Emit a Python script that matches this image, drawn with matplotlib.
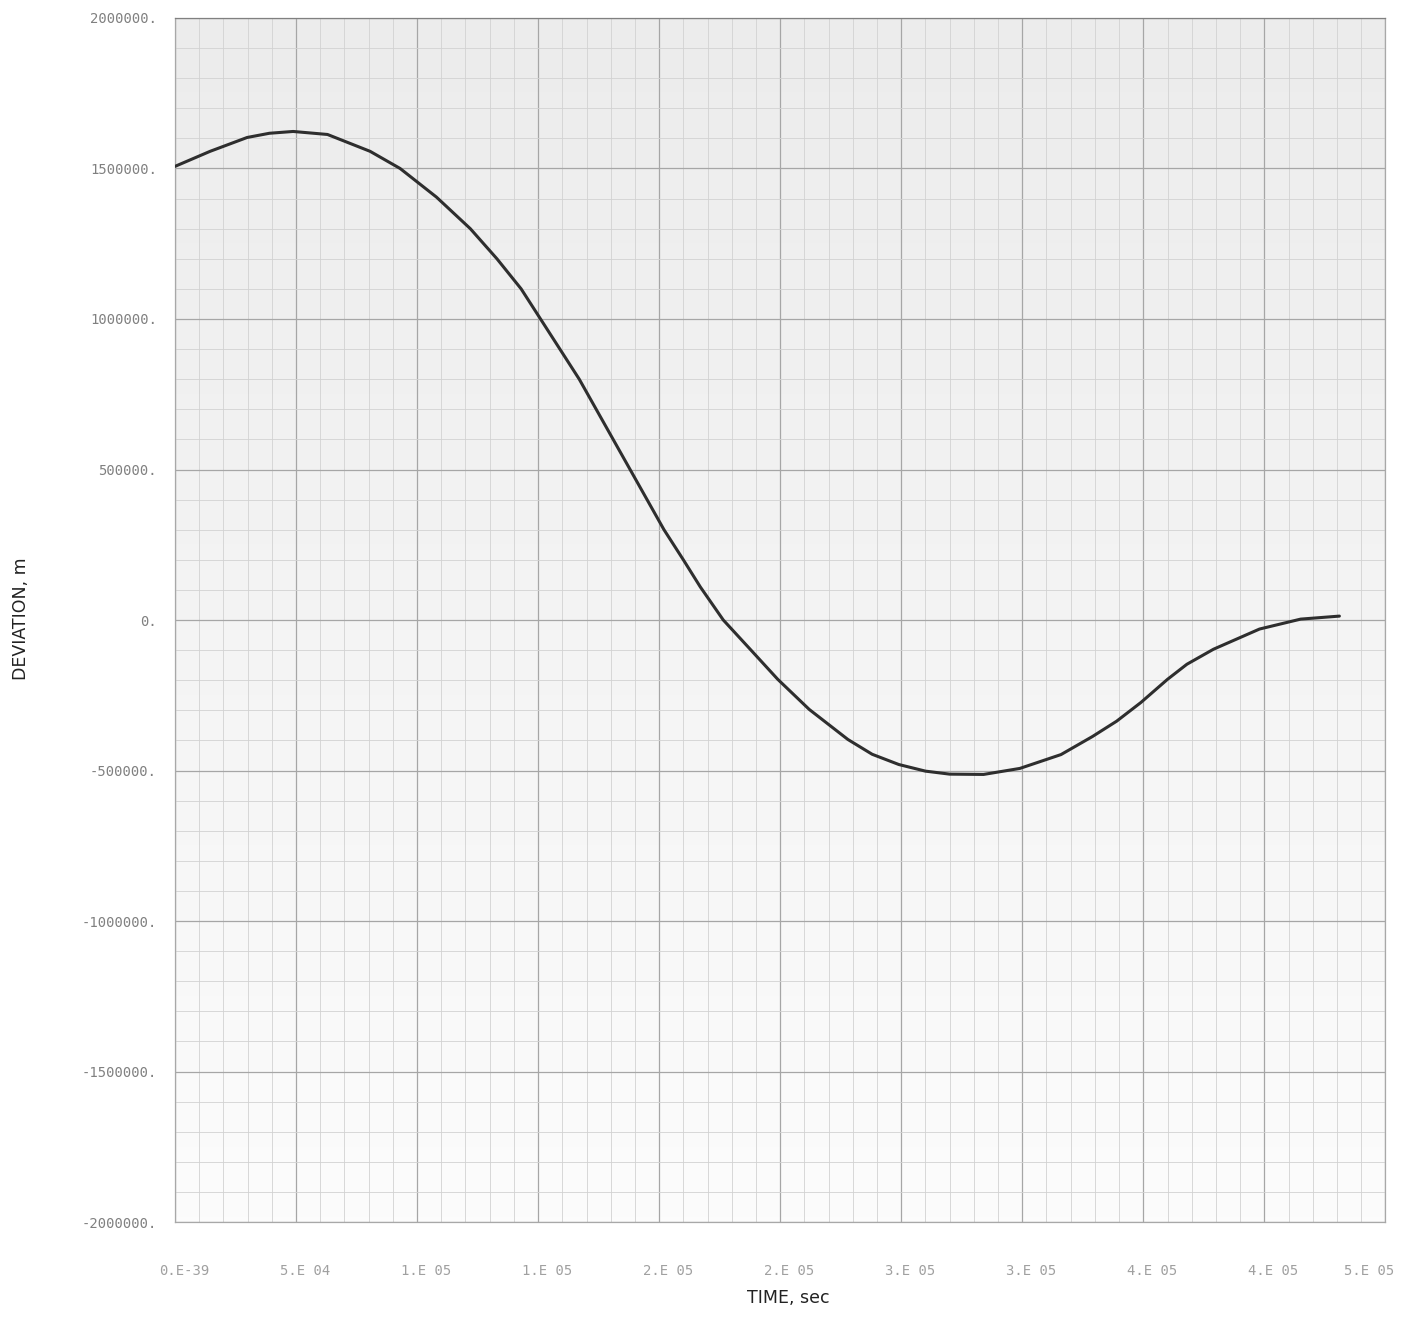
import matplotlib
matplotlib.use("Agg")
import matplotlib.pyplot as plt
import matplotlib.transforms as mtransforms
import numpy as np
from matplotlib.colors import LinearSegmentedColormap
from matplotlib.ticker import FixedLocator, MultipleLocator

# curve
time_s = [0, 1.45e4, 2.98e4, 3.9e4, 4.88e4, 6.3e4, 8.06e4, 9.3e4, 1.08e5,
          1.22e5, 1.33e5, 1.43e5, 1.51e5, 1.59e5, 1.67e5, 1.74e5, 1.81e5,
          1.88e5, 1.95e5, 2.02e5, 2.10e5, 2.17e5, 2.265e5, 2.376e5, 2.49e5,
          2.62e5, 2.78e5, 2.88e5, 2.99e5, 3.1e5, 3.2e5, 3.34e5, 3.49e5,
          3.66e5, 3.79e5, 3.89e5, 3.99e5, 4.1e5, 4.18e5, 4.29e5, 4.48e5,
          4.65e5, 4.81e5]
deviation_m = [1.507e6, 1.557e6, 1.603e6, 1.617e6, 1.623e6, 1.613e6, 1.557e6,
               1.50e6, 1.405e6, 1.30e6, 1.20e6, 1.10e6, 1.00e6, 0.90e6,
               0.80e6, 0.70e6, 0.60e6, 0.50e6, 0.40e6, 0.30e6, 0.20e6,
               0.11e6, 0.0, -0.097e6, -0.197e6, -0.297e6, -0.397e6,
               -0.446e6, -0.48e6, -0.502e6, -0.512e6, -0.513e6, -0.493e6,
               -0.447e6, -0.387e6, -0.336e6, -0.274e6, -0.197e6, -0.147e6,
               -0.097e6, -0.03e6, 0.003e6, 0.013e6]

x_ticks = [i * 5e4 for i in range(11)]
x_tick_labels = ["0.E-39", "5.E 04", "1.E 05", "1.E 05", "2.E 05", "2.E 05",
                 "3.E 05", "3.E 05", "4.E 05", "4.E 05", "5.E 05"]
y_ticks = [-2e6, -1.5e6, -1e6, -5e5, 0, 5e5, 1e6, 1.5e6, 2e6]
y_tick_labels = ["-2000000.", "-1500000.", "-1000000.", "-500000.", "0.",
                 "500000.", "1000000.", "1500000.", "2000000."]

fig = plt.figure(figsize=(14.18, 13.22), dpi=100)
ax = fig.add_axes([0.1234, 0.0756, 0.8536, 0.9108])

ax.set_xlim(0, 5e5)
ax.set_ylim(-2e6, 2e6)

# faint scanned-paper shading, a little darker toward the top
paper = LinearSegmentedColormap.from_list("paper", ["#fcfcfc", "#ececec"])
shade = np.linspace(0.0, 1.0, 256).reshape(-1, 1)
ax.imshow(shade, cmap=paper, aspect="auto", extent=[0, 1, 0, 1],
          transform=ax.transAxes, origin="lower", zorder=0)

ax.xaxis.set_major_locator(FixedLocator(x_ticks))
ax.yaxis.set_major_locator(FixedLocator(y_ticks))
ax.xaxis.set_minor_locator(MultipleLocator(1e4))
ax.yaxis.set_minor_locator(MultipleLocator(1e5))
ax.grid(which="major", color="#a6a6a6", linewidth=0.9, zorder=1)
ax.grid(which="minor", color="#d2d2d2", linewidth=0.6, zorder=1)
ax.set_axisbelow(True)

ax.set_xticklabels(x_tick_labels, family="DejaVu Sans Mono", fontsize=10,
                   color="#a0a0a0")
ax.set_yticklabels(y_tick_labels, family="DejaVu Sans Mono", fontsize=10,
                   color="#808080")
ax.tick_params(axis="both", which="both", length=0)
ax.tick_params(axis="x", pad=30)
ax.tick_params(axis="y", pad=13)

# plotter labels sit a bit right of their gridline, the last one to the left
for i, lab in enumerate(ax.get_xticklabels()):
    dx = -16 if i == len(x_ticks) - 1 else 9
    shift = mtransforms.ScaledTranslation(dx / 100, 0, fig.dpi_scale_trans)
    lab.set_transform(lab.get_transform() + shift)

for side in ["left", "right", "top", "bottom"]:
    ax.spines[side].set_color("#a8a8a8")
    ax.spines[side].set_linewidth(0.9)
ax.spines["top"].set_color("#808080")

ax.plot(time_s, deviation_m, color="#2e2e2e", linewidth=2.2,
        solid_joinstyle="round", solid_capstyle="round", zorder=3)

fig.text(0.0148, 0.532, "DEVIATION, m", rotation=90, ha="center", va="center",
         fontsize=12.5, color="#222222")
fig.text(0.556, 0.018, "TIME, sec", ha="center", va="center",
         fontsize=12.5, color="#222222")

fig.savefig("out.png", dpi=100)
